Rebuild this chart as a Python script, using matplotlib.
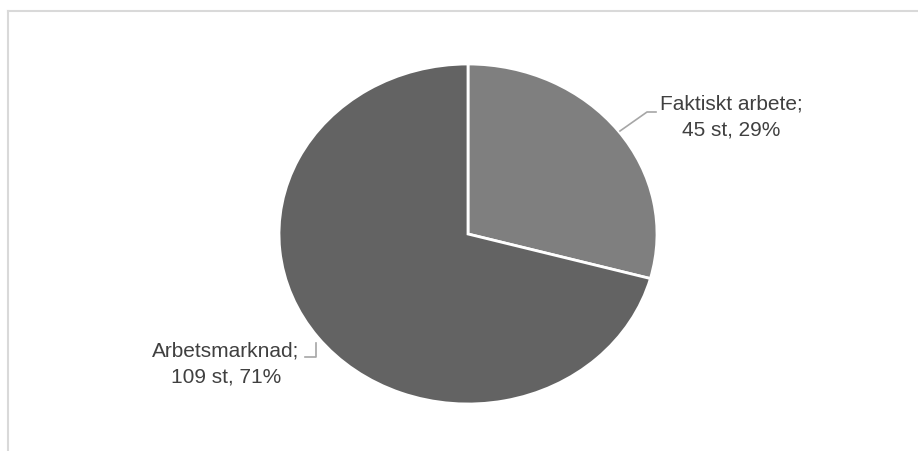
import matplotlib.pyplot as plt
from matplotlib.lines import Line2D

labels = ['Faktiskt arbete', 'Arbetsmarknad']
counts = [45, 109]
colors = ['#7f7f7f', '#636363']

W, H = 918, 451
fig = plt.figure(figsize=(W / 100, H / 100), dpi=100)

# light frame (top and left edges visible)
fig.add_artist(Line2D([8 / W, 1], [1 - 11 / H, 1 - 11 / H], color='#d9d9d9', lw=1.5))
fig.add_artist(Line2D([8 / W, 8 / W], [0, 1 - 11 / H], color='#d9d9d9', lw=1.5))

# pie is stretched into an ellipse, so axes box = pie bounds in pixels
x0, x1, y0, y1 = 279, 657, 64, 404
ax = fig.add_axes([x0 / W, 1 - y1 / H, (x1 - x0) / W, (y1 - y0) / H])
ax.pie(counts, colors=colors, startangle=90, counterclock=False,
       wedgeprops=dict(edgecolor='white', linewidth=2))
ax.set_aspect('auto')
ax.set_xlim(-1, 1)
ax.set_ylim(-1, 1)
ax.axis('off')

total = sum(counts)
texts = [f'{l};\n{c} st, {round(100 * c / total)}%' for l, c in zip(labels, counts)]
tcol = '#404040'
fig.text(731 / W, 1 - 117 / H, texts[0], ha='center', va='center',
         fontsize=15, color=tcol, linespacing=1.5, family='Liberation Sans')
fig.text(226 / W, 1 - 364 / H, texts[1], ha='center', va='center',
         fontsize=15, color=tcol, linespacing=1.5, family='Liberation Sans')

# leader lines
px = lambda xs: [v / W for v in xs]
py = lambda ys: [1 - v / H for v in ys]
fig.add_artist(Line2D(px([620, 647, 656]), py([131, 112, 112]), color='#a6a6a6', lw=1.2))
fig.add_artist(Line2D(px([305, 316, 316]), py([357, 357, 343]), color='#a6a6a6', lw=1.2))

fig.savefig('out.png', dpi=100)
